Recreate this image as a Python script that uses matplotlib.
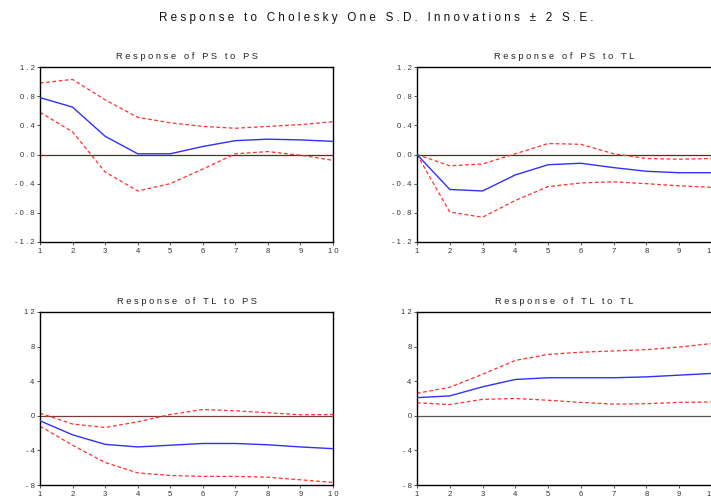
import matplotlib
matplotlib.use("Agg")
import matplotlib.pyplot as plt
import numpy as np

plt.rcParams['font.family'] = ['Liberation Sans', 'DejaVu Sans']

steps = [1, 2, 3, 4, 5, 6, 7, 8, 9, 10]

ps_ps_resp = [0.78, 0.65, 0.25, 0.01, 0.01, 0.11, 0.19, 0.21, 0.20, 0.18]
ps_ps_up = [0.98, 1.03, 0.75, 0.51, 0.435, 0.385, 0.36, 0.385, 0.41, 0.45]
ps_ps_lo = [0.58, 0.31, -0.24, -0.50, -0.40, -0.20, 0.01, 0.04, -0.01, -0.08]

ps_tl_resp = [0.0, -0.48, -0.50, -0.28, -0.14, -0.12, -0.18, -0.23, -0.25, -0.25]
ps_tl_up = [0.0, -0.155, -0.13, 0.01, 0.15, 0.14, 0.01, -0.055, -0.065, -0.055]
ps_tl_lo = [0.0, -0.79, -0.86, -0.63, -0.44, -0.39, -0.375, -0.40, -0.43, -0.45]

tl_ps_resp = [-0.58, -2.2, -3.3, -3.6, -3.4, -3.2, -3.2, -3.35, -3.6, -3.8]
tl_ps_up = [0.3, -0.95, -1.35, -0.7, 0.15, 0.73, 0.58, 0.35, 0.12, 0.15]
tl_ps_lo = [-1.2, -3.4, -5.4, -6.6, -6.9, -7.0, -7.0, -7.1, -7.4, -7.7]

tl_tl_resp = [2.1, 2.3, 3.35, 4.2, 4.4, 4.4, 4.4, 4.5, 4.7, 4.9]
tl_tl_up = [2.6, 3.3, 4.8, 6.4, 7.1, 7.35, 7.5, 7.65, 7.95, 8.35]
tl_tl_lo = [1.5, 1.3, 1.9, 2.0, 1.8, 1.55, 1.35, 1.4, 1.55, 1.6]

top_yticks = [-1.2, -0.8, -0.4, 0.0, 0.4, 0.8, 1.2]
top_ylabels = ["-1.2", "-0.8", "-0.4", "0.0", "0.4", "0.8", "1.2"]
bot_yticks = [-8, -4, 0, 4, 8, 12]
bot_ylabels = ["-8", "-4", "0", "4", "8", "12"]

titles = ["Response of PS to PS", "Response of PS to TL",
          "Response of TL to PS", "Response of TL to TL"]
main_title = "Response to Cholesky One S.D. Innovations \u00b1 2 S.E."


def spaced(s):
    return " ".join(list(s))


fig = plt.figure(figsize=(7.11, 4.99), dpi=100)
W, H = 711.0, 499.0

def ax_at(x0, y0, x1, y1):
    return fig.add_axes([x0 / W, 1 - y1 / H, (x1 - x0) / W, (y1 - y0) / H])

axes = [ax_at(40, 67, 333, 242), ax_at(417, 67, 712, 242),
        ax_at(40, 312, 333, 485), ax_at(417, 312, 712, 485)]

data = [(ps_ps_resp, ps_ps_up, ps_ps_lo), (ps_tl_resp, ps_tl_up, ps_tl_lo),
        (tl_ps_resp, tl_ps_up, tl_ps_lo), (tl_tl_resp, tl_tl_up, tl_tl_lo)]

zero_colors = ["#7a1a1a", "#7a1a1a", "#7a3a3a", "#555555"]

for i, ax in enumerate(axes):
    resp, up, lo = data[i]
    ax.axhline(0, color=zero_colors[i], lw=0.9, zorder=1)
    ax.plot(steps, up, color="#ff3030", lw=0.9, ls=(0, (3, 2)), zorder=2)
    ax.plot(steps, lo, color="#ff3030", lw=0.9, ls=(0, (3, 2)), zorder=2)
    ax.plot(steps, resp, color="#3030ff", lw=1.0, zorder=3)
    ax.set_xlim(1, 10)
    if i < 2:
        ax.set_ylim(-1.2, 1.2)
        ax.set_yticks(top_yticks)
        ax.set_yticklabels([spaced(t) for t in top_ylabels])
    else:
        ax.set_ylim(-8, 12)
        ax.set_yticks(bot_yticks)
        ax.set_yticklabels([spaced(t) for t in bot_ylabels])
    ax.set_xticks(steps)
    ax.set_xticklabels([spaced(str(s)) for s in steps])
    ax.tick_params(axis="both", direction="out", length=2, width=0.6,
                   labelsize=5.5, colors="#333333", pad=2)
    for sp in ax.spines.values():
        sp.set_linewidth(1.0)
        sp.set_color("black")
    ax.set_title(spaced(titles[i]), fontsize=6.7, pad=6, color="#222222")

fig.text(376 / W, 1 - 18 / H, spaced(main_title), ha="center", va="center",
         fontsize=8.4, color="#111111")

fig.savefig("out.png", dpi=100)
